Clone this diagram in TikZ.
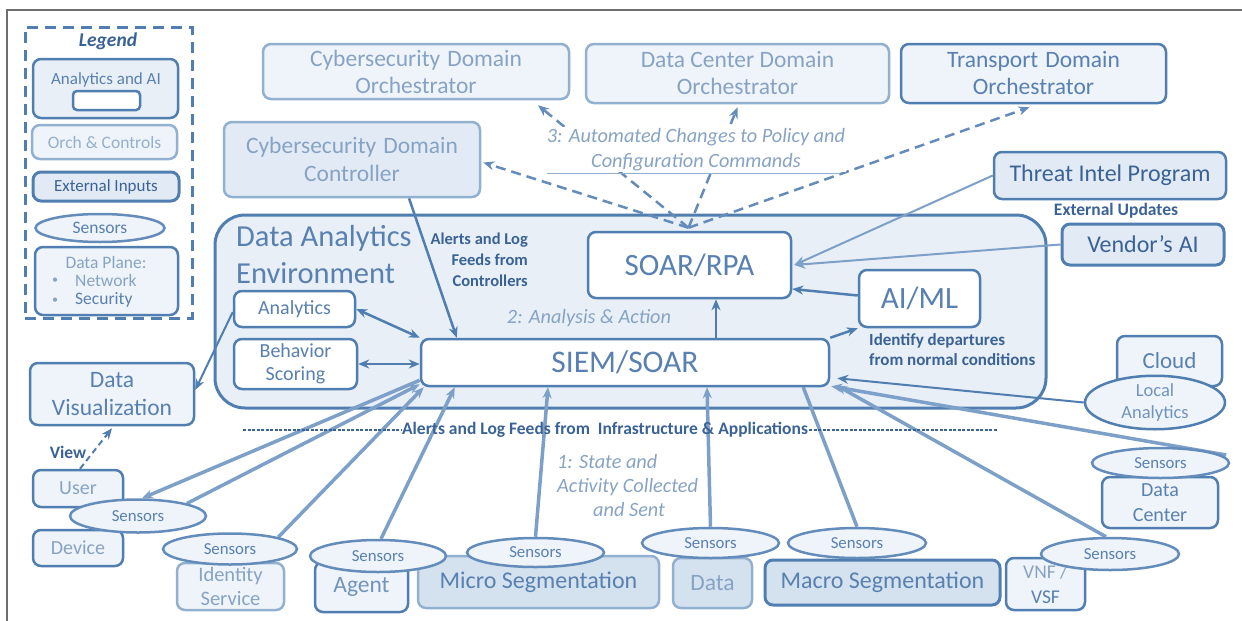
\documentclass[tikz,border=0pt]{standalone}
\usepackage{fontspec}
\setmainfont{Carlito}
\usetikzlibrary{arrows.meta,shapes.geometric}
\definecolor{cDark}{RGB}{80,126,176}
\definecolor{cMid}{RGB}{88,128,176}
\definecolor{cLight}{RGB}{146,176,208}
\definecolor{cTxtL}{RGB}{135,163,196}
\definecolor{cTxtD}{RGB}{58,98,148}
\definecolor{cFillE}{RGB}{232,239,247}
\definecolor{cFillL}{RGB}{239,244,250}
\definecolor{cFillX}{RGB}{226,235,245}
\definecolor{cFillS}{RGB}{212,225,238}
\definecolor{cArrow}{RGB}{125,160,200}
\definecolor{cSens}{RGB}{100,140,186}
\definecolor{cFrame}{RGB}{110,110,110}
\newcommand{\fs}[2]{\fontsize{#1}{#2}\selectfont}
\pgfdeclarelayer{back}
\pgfdeclarelayer{bg}
\pgfsetlayers{back,bg,main}
\begin{document}
\begin{tikzpicture}[x=1pt,y=-1pt,
  box/.style={draw, rounded corners=8pt, line width=2.5pt, inner sep=0pt, align=center},
  lbox/.style={box, draw=cLight, fill=cFillL, text=cTxtL},
  dbox/.style={box, draw=cDark, fill=cFillL, text=cMid},
  wbox/.style={box, draw=cDark, fill=white, text=cMid},
  sbox/.style={box, fill=cFillS},
  sensor/.style={ellipse, draw=cSens, line width=2.5pt, fill=cFillL, inner sep=0pt, text=cMid, font=\fs{16.8}{19}},
  arr/.style={-{Stealth[length=11pt,width=9pt]}},
  dbl/.style={{Stealth[length=11pt,width=9pt]}-{Stealth[length=11pt,width=9pt]}},
  link/.style={draw=cDark, line width=2.5pt},
  feed/.style={draw=cArrow, line width=3.5pt},
  cmd/.style={draw=cSens, line width=2.5pt, dash pattern=on 10pt off 6pt},
  lbl/.style={text=cTxtD, font=\fs{17.5}{21}\bfseries, inner sep=1pt}
]
\useasboundingbox (0,0) rectangle (1242,621);
% frame
\coordinate (fr1) at (7,621);
\coordinate (fr2) at (7,10);
\coordinate (fr3) at (1242,10);
\draw[cFrame, line width=1.5pt] (fr1) -- (fr2) -- (fr3);

% legend and environment frames
\begin{pgfonlayer}{back}
\node[draw=cDark, dash pattern=on 11pt off 7pt, line width=3pt, minimum width=167pt, minimum height=291pt, inner sep=0pt] (legend) at (108.5,172.5) {};
\node[draw=cDark, fill=cFillE, line width=3pt, rounded corners=30pt, minimum width=831pt, minimum height=193pt, inner sep=0pt] (env) at (630.5,311.5) {};
\end{pgfonlayer}
\node[text=cTxtD, font=\fs{19.5}{22}\bfseries\itshape] (legt) at (108,41) {Legend};
\node[box, draw=cDark, fill=cFillE, minimum width=145pt, minimum height=59pt] (legaa) at (105.5,88.5) {};
\node[text=cMid, font=\fs{17}{20}] (legaat) at (106,80) {Analytics and AI};
\node[draw=cDark, fill=white, line width=2.5pt, rounded corners=4pt, minimum width=67pt, minimum height=19pt, inner sep=0pt] (legin) at (106.5,100.5) {};
\node[box, draw=cLight, fill=cFillL, text={rgb,255:red,150;green,175;blue,205}, font=\fs{17.5}{20}, minimum width=145pt, minimum height=34pt] (legoc) at (104.5,142) {Orch \& Controls};
\node[box, draw=cDark, line width=3pt, fill=cFillX, text=cTxtD, font=\fs{17}{20}, minimum width=146pt, minimum height=29pt] (legei) at (106,186.5) {External Inputs};
\node[sensor, font=\fs{17.5}{20}, minimum width=129pt, minimum height=28pt] (legs) at (100,228) {Sensors};
\node[dbox, minimum width=143pt, minimum height=68pt] (legdp) at (106.5,281) {};
\node[text=cTxtL, font=\fs{17.5}{20}] (legdpt) at (106,262) {Data Plane:};
\node[text=cTxtL, font=\fs{12}{14}] (legb1) at (55,281) {\textbullet};
\node[text=cTxtL, font=\fs{12}{14}] (legb2) at (55,301) {\textbullet};
\node[text=cTxtL, font=\fs{17.5}{20}, anchor=west, inner sep=0pt] (legnw) at (75,280) {Network};
\node[text=cMid, font=\fs{17.5}{20}, anchor=west, inner sep=0pt] (legsc) at (75,300) {Security};

% top boxes
\node[lbox, font=\fs{23.5}{27}, minimum width=306pt, minimum height=55pt] (cdo) at (416,71.5) {Cybersecurity\hspace{7pt}Domain\\Orchestrator};
\node[lbox, font=\fs{23.5}{27}, minimum width=303pt, minimum height=59pt] (dco) at (737.5,73.5) {Data Center Domain\\Orchestrator};
\node[box, draw=cDark, fill=cFillL, text=cMid, font=\fs{23.5}{27}, minimum width=265pt, minimum height=59pt] (tdo) at (1033.5,73.5) {Transport\hspace{7pt}Domain\\Orchestrator};
\node[lbox, fill=cFillX, font=\fs{23.5}{28}, minimum width=256pt, minimum height=75pt] (cdc) at (352,159.5) {Cybersecurity\hspace{7pt}Domain\\Controller};
\node[box, draw=cDark, fill=cFillX, text=cTxtD, font=\fs{24}{27}, minimum width=232pt, minimum height=47pt] (tip) at (1110,175.5) {Threat Intel Program};
\node[lbl] (ext) at (1116,211) {External Updates};
\node[box, draw=cDark, line width=3pt, fill=cFillX, text=cTxtD, font=\fs{24}{27}, minimum width=162pt, minimum height=41pt] (vai) at (1143,244.5) {Vendor’s\hspace{6pt}AI};
\node[text=cTxtL, fill=white, inner sep=1pt, font=\fs{20.3}{25}\itshape, align=center] (auto) at (696,149.5) {3: Automated Changes to Policy and\\Configuration Commands};
\coordinate (ul1) at (547,173);
\coordinate (ul2) at (840,173);
\draw[cLight, line width=0.8pt] (ul1) -- (ul2);

% analytics environment
\node[text=cMid, font=\fs{30.5}{37}, align=left, anchor=west, inner sep=0pt] (envt) at (236,254.5) {Data Analytics\\Environment};
\node[lbl, font=\fs{16.5}{21}\bfseries, align=right, anchor=east] (actl) at (529,260) {Alerts and Log\\Feeds from\\Controllers};
\node[wbox, font=\fs{31}{34}, minimum width=203pt, minimum height=66pt] (soar) at (689.5,265) {SOAR/RPA};
\node[wbox, font=\fs{20}{23}, minimum width=121pt, minimum height=36pt] (analytics) at (294.5,309) {Analytics};
\node[wbox, font=\fs{20}{23}, minimum width=123pt, minimum height=50pt] (behavior) at (295.5,364) {Behavior\\Scoring};
\node[wbox, font=\fs{31.5}{34}, minimum width=408pt, minimum height=47pt] (siem) at (625,362.5) {SIEM/SOAR};
\node[wbox, font=\fs{31}{34}, minimum width=121pt, minimum height=57pt] (aiml) at (919.5,298.5) {AI/ML};
\node[text=cTxtL, font=\fs{20.3}{24}\itshape] (ana) at (589,318) {2: Analysis \& Action};
\node[lbl, font=\fs{17}{19.5}\bfseries, align=left, anchor=west] (idt) at (868,349.5) {Identify departures\\from normal conditions};

% left side and bottom
\node[dbox, font=\fs{23.5}{28}, minimum width=164pt, minimum height=62pt] (dataviz) at (112,394) {Data\\Visualization};
\node[lbl, font=\fs{17.5}{20}\bfseries] (view) at (68,452) {View};
\node[dbox, text=cTxtL, font=\fs{20}{23}, minimum width=90pt, minimum height=37pt] (user) at (78,488.5) {User};
\node[dbox, text=cTxtL, font=\fs{20}{23}, minimum width=90pt, minimum height=36pt] (device) at (78,548) {Device};
\node[lbox, font=\fs{20.5}{23.5}, minimum width=107pt, minimum height=47pt] (idsvc) at (230.5,586.5) {Identity\\Service};
\node[dbox, text={rgb,255:red,112;green,148;blue,190}, font=\fs{23.5}{27}, minimum width=93pt, minimum height=50pt] (agent) at (361.5,587) {Agent};
\node[sbox, draw=cLight, text=cMid, font=\fs{24}{27}, minimum width=241pt, minimum height=52pt] (micro) at (538.5,582) {Micro Segmentation};
\node[sbox, draw=cLight, text=cTxtL, font=\fs{23.5}{27}, minimum width=79pt, minimum height=50pt] (data) at (712.5,583) {Data};
\node[sbox, draw=cDark, line width=3pt, text=cMid, font=\fs{24}{27}, minimum width=235pt, minimum height=45pt] (macro) at (882.5,582.5) {Macro Segmentation};
\node[dbox, font=\fs{19.5}{25}, minimum width=79pt, minimum height=52pt] (vnf) at (1045.5,584) {{\color{cTxtL}VNF /}\\VSF};
\node[dbox, font=\fs{20}{25}, minimum width=116pt, minimum height=51pt] (dc) at (1160,502.5) {Data\\Center};
\node[dbox, font=\fs{23}{27}, minimum width=105pt, minimum height=50pt] (cloud) at (1169.5,361) {Cloud};
\node[sensor, draw=cDark, text={rgb,255:red,112;green,148;blue,190}, font=\fs{18.5}{22}, align=center, minimum width=140pt, minimum height=47pt] (localA) at (1155,402.5) {Local\\Analytics};

% sensors
\node[sensor, minimum width=136pt, minimum height=33pt] (sUser) at (138,516) {Sensors};
\node[sensor, minimum width=134pt, minimum height=31pt] (sId) at (230,549) {Sensors};
\node[sensor, minimum width=136pt, minimum height=32pt] (sAgent) at (378,556) {Sensors};
\node[sensor, minimum width=137pt, minimum height=29pt] (sMicro) at (535.5,552.5) {Sensors};
\node[sensor, minimum width=137pt, minimum height=30pt] (sData) at (710.5,543) {Sensors};
\node[sensor, minimum width=138pt, minimum height=30pt] (sMacro) at (857,543) {Sensors};
\node[sensor, minimum width=138pt, minimum height=32pt] (sVnf) at (1110,554) {Sensors};
\node[sensor, minimum width=137pt, minimum height=30pt] (sDc) at (1160.5,463) {Sensors};

% feed labels
\node[lbl] (feeds) at (605,430) {Alerts and Log Feeds from\ \ Infrastructure \& Applications};
\coordinate (dl) at (243,430);
\coordinate (dr) at (997,430);
\draw[cTxtD, line width=1.2pt, dash pattern=on 3pt off 1.5pt] (dl) -- (feeds.west);
\draw[cTxtD, line width=1.2pt, dash pattern=on 3pt off 1.5pt] (feeds.east) -- (dr);
\node[text=cTxtL, font=\fs{20.3}{24}\itshape, align=left, anchor=west, inner sep=0pt] (state) at (557,486) {1: State and\\Activity Collected\\\hspace*{36pt}and Sent};

% connectors
\begin{pgfonlayer}{bg}
\draw[link, arr] ([xshift=57pt]cdc.south) -- ([xshift=37pt]siem.north west);
\draw[link, dbl] (analytics.east) -- (siem.north west);
\draw[link, dbl] (behavior.east) -- (behavior.east -| siem.west);
\draw[link, arr] ([xshift=91pt]siem.north) -- ([xshift=91pt]siem.north |- soar.south);
\draw[link, arr] (siem.north east) -- (aiml.south west);
\draw[link, arr] ([yshift=3pt]aiml.west) -- ([yshift=-24pt]soar.east);
\draw[draw=cArrow, line width=2pt, arr] (tip.west) -- ([xshift=2pt]soar.east);
\draw[draw=cArrow, line width=2pt, arr] (vai.west) -- ([xshift=2pt]soar.east);
\coordinate (conv) at ([xshift=-1pt,yshift=3pt]soar.north);
\draw[cmd, arr] (conv) -- ([xshift=122pt,yshift=-5pt]cdo.south);
\draw[cmd, arr] (conv) -- ([xshift=2pt,yshift=-3pt]cdc.east);
\draw[cmd, arr] (conv) -- ([yshift=-3pt]dco.south);
\draw[cmd, arr] (conv) -- ([xshift=-4pt,yshift=-3pt]tdo.south);
\draw[link, line width=2pt, arr] ([yshift=-3pt]analytics.west) -- ([yshift=4pt]dataviz.east);
\draw[cmd, draw=cDark, line width=2pt, dash pattern=on 6pt off 4pt, arr] ([xshift=2pt]user.north) -- ([yshift=-2pt]dataviz.south);
\draw[feed, arr] ([yshift=7pt]siem.south west) -- ([xshift=4pt]sUser.north);
\draw[feed, arr] (sUser.north east) -- ([yshift=3pt]siem.south west);
\draw[feed, arr] (sId.north east) -- ([xshift=4pt]siem.south west);
\draw[feed, arr] ([xshift=3pt]sAgent.north) -- ([xshift=35pt]siem.south west);
\draw[feed, arr] (sMicro.north) -- ([xshift=-77pt]siem.south);
\draw[feed, arr] (sData.north) -- ([xshift=82pt]siem.south);
\draw[feed] (sMacro.north) -- ([xshift=-27pt]siem.south east);
\draw[feed, arr] ([xshift=-4pt]sVnf.north) -- ([xshift=6pt,yshift=2pt]siem.south east);
\draw[feed, arr] ([xshift=-4pt,yshift=8pt]sDc.east) -- ([xshift=1pt,yshift=1pt]siem.south east);
\draw[link, line width=2pt, arr] (localA.west) -- ([xshift=7pt,yshift=9pt]siem.south east);
\end{pgfonlayer}
\end{tikzpicture}
\end{document}
